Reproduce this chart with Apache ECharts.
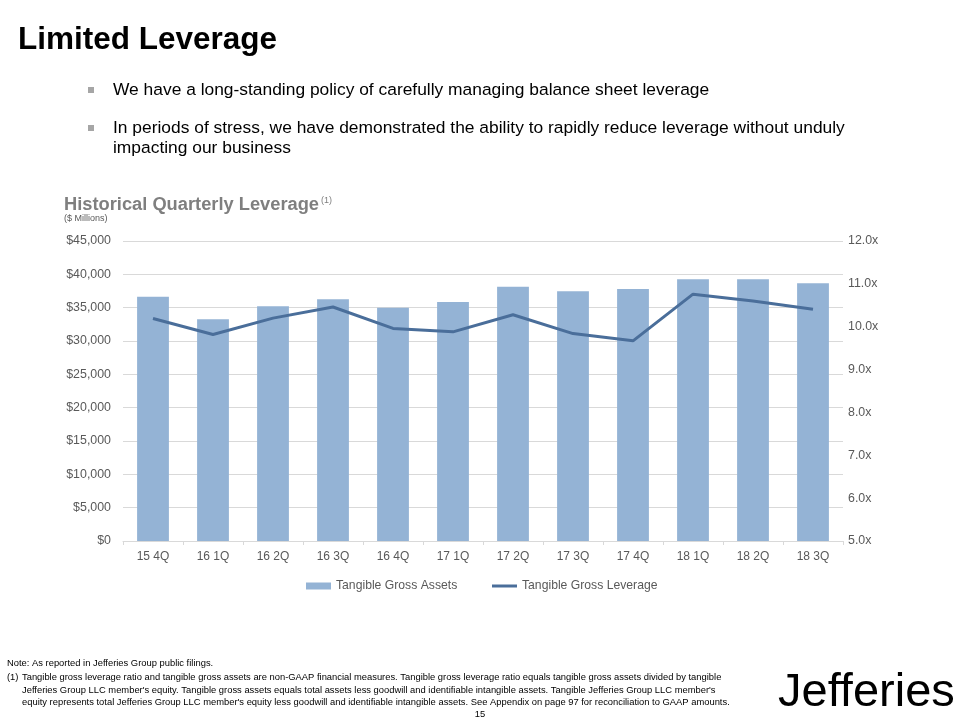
<!DOCTYPE html>
<html>
<head>
<meta charset="utf-8">
<script src="https://cdn.jsdelivr.net/npm/echarts@6/dist/echarts.min.js"></script>
<style>
html,body{margin:0;padding:0;background:#fff;}
#chart{width:960px;height:720px;}
</style>
</head>
<body>
<div id="chart"></div>
<script>
const categories = ['15 4Q','16 1Q','16 2Q','16 3Q','16 4Q','17 1Q','17 2Q','17 3Q','17 4Q','18 1Q','18 2Q','18 3Q'];
const grossAssets = [36650, 33250, 35200, 36250, 35000, 35850, 38150, 37450, 37800, 39250, 39250, 38650];
const grossLeverage = [10.19, 9.82, 10.20, 10.46, 9.96, 9.88, 10.28, 9.84, 9.67, 10.76, 10.60, 10.41];
const seriesNames = ['Tangible Gross Assets', 'Tangible Gross Leverage'];

const F = '"Liberation Sans", Arial, sans-serif';
const chart = echarts.init(document.getElementById('chart'));

function txt(x, y, text, font, fill, extra) {
  return Object.assign({ type: 'text', x: x, y: y, silent: true,
    style: Object.assign({ text: text, font: font, fill: fill, textVerticalAlign: 'middle' }, extra || {}) });
}

const foot = '9.4px ' + F;
chart.setOption({
  animation: false,
  backgroundColor: '#ffffff',
  grid: { left: 123, right: 117, top: 241, bottom: 179 },
  legend: [
    { data: [{ name: seriesNames[0], icon: 'rect' }], left: 301, top: 575, itemWidth: 25, itemHeight: 7, itemGap: 4,
      textStyle: { fontFamily: F, fontSize: 12.2, color: '#595959' }, selectedMode: false },
    { data: [{ name: seriesNames[1], icon: 'rect' }], left: 487, top: 575, itemWidth: 25, itemHeight: 3, itemGap: 4,
      textStyle: { fontFamily: F, fontSize: 12.2, color: '#595959' }, selectedMode: false }
  ],
  xAxis: {
    type: 'category', data: categories,
    axisLine: { lineStyle: { color: '#d9d9d9' } },
    axisTick: { show: true, length: 4, lineStyle: { color: '#d9d9d9' } },
    axisLabel: { fontFamily: F, fontSize: 12, color: '#595959', margin: 10 }
  },
  yAxis: [
    { type: 'value', min: 0, max: 45000, interval: 5000,
      axisLine: { show: false }, axisTick: { show: false },
      splitLine: { lineStyle: { color: '#d9d9d9' } },
      axisLabel: { fontFamily: F, fontSize: 12.4, color: '#595959', margin: 12,
        formatter: v => '$' + v.toLocaleString('en-US') } },
    { type: 'value', min: 5, max: 12, interval: 1,
      axisLine: { show: false }, axisTick: { show: false }, splitLine: { show: false },
      axisLabel: { fontFamily: F, fontSize: 12.4, color: '#595959', margin: 5,
        formatter: v => v.toFixed(1) + 'x' } }
  ],
  series: [
    { name: seriesNames[0], type: 'bar', data: grossAssets, barWidth: '53%',
      itemStyle: { color: '#94b3d5' }, yAxisIndex: 0 },
    { name: seriesNames[1], type: 'line', data: grossLeverage, yAxisIndex: 1,
      symbol: 'none', lineStyle: { color: '#4a6e9a', width: 3 }, itemStyle: { color: '#4a6e9a' } }
  ],
  graphic: [
    txt(18, 40, 'Limited Leverage', 'bold 31.5px ' + F, '#000000'),
    { type: 'rect', shape: { x: 88, y: 87, width: 6, height: 6 }, style: { fill: '#a6a6a6' }, silent: true },
    txt(113, 90, 'We have a long-standing policy of carefully managing balance sheet leverage', '17.4px ' + F, '#000000'),
    { type: 'rect', shape: { x: 88, y: 125, width: 6, height: 6 }, style: { fill: '#a6a6a6' }, silent: true },
    txt(113, 128, 'In periods of stress, we have demonstrated the ability to rapidly reduce leverage without unduly', '17.4px ' + F, '#000000'),
    txt(113, 148, 'impacting our business', '17.4px ' + F, '#000000'),
    txt(64, 205, 'Historical Quarterly Leverage', 'bold 18.3px ' + F, '#7f7f7f'),
    txt(321, 201, '(1)', '9px ' + F, '#7f7f7f'),
    txt(64, 219, '($ Millions)', '9px ' + F, '#595959'),
    txt(7, 663, 'Note: As reported in Jefferies Group public filings.', foot, '#000000'),
    txt(7, 677, '(1)', foot, '#000000'),
    txt(22, 677, 'Tangible gross leverage ratio and tangible gross assets are non-GAAP financial measures. Tangible gross leverage ratio equals tangible gross assets divided by tangible', foot, '#000000'),
    txt(22, 690, "Jefferies Group LLC member's equity. Tangible gross assets equals total assets less goodwill and identifiable intangible assets. Tangible Jefferies Group LLC member's", foot, '#000000'),
    txt(22, 702, "equity represents total Jefferies Group LLC member's equity less goodwill and identifiable intangible assets. See Appendix on page 97 for reconciliation to GAAP amounts.", foot, '#000000'),
    txt(480, 714, '15', foot, '#000000', { textAlign: 'center' }),
    txt(778, 693, 'Jefferies', '47px ' + F, '#000000')
  ]
});
</script>
</body>
</html>
